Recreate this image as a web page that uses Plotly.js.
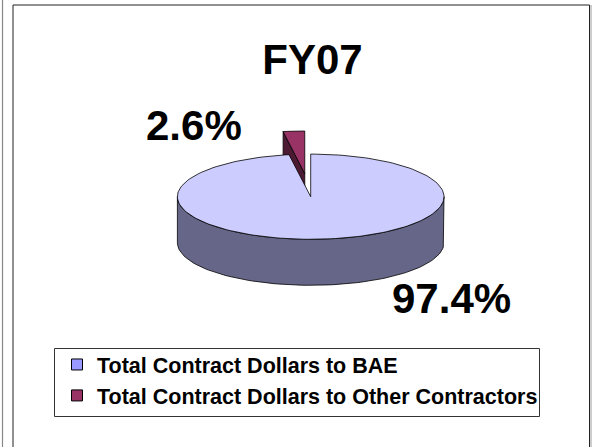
<!DOCTYPE html>
<html><head><meta charset="utf-8">
<script src="https://cdn.plot.ly/plotly-3.0.1.min.js"></script>
<style>html,body{margin:0;padding:0;background:#fff}#chart{width:595px;height:447px}</style>
</head><body><div id="chart"></div>
<script>
// ---- data ----
const chartTitle = 'FY07';
const labels = ['Total Contract Dollars to BAE', 'Total Contract Dollars to Other Contractors'];
const values = [97.4, 2.6];
const explodeFrac = [0, 0.544];
const topColors = ['#CCCCFF', '#993366'];
const sideColors = ['#666688', '#4D1A33'];
const legendColors = ['#9999FF', '#993366'];

// ---- geometry (pixel-mapped axes) ----
const CX = 310.7, CY = 196.7, A = 133.3, B = 42.6, D = 46;
const FONT = 'Arial, "Liberation Sans", sans-serif';
const total = values.reduce((s, v) => s + v, 0);
const rad = d => d * Math.PI / 180;
function pt(th, ox, oy, dz) { return [CX + ox + A * Math.cos(rad(th)), CY + oy - B * Math.sin(rad(th)) + dz]; }
function arc(a0, a1, ox, oy, dz) {
  const n = Math.max(2, Math.ceil(Math.abs(a1 - a0) / 2)); const out = [];
  for (let i = 0; i <= n; i++) out.push(pt(a0 + (a1 - a0) * i / n, ox, oy, dz));
  return out;
}
function poly(points, fill) {
  const xs = points.map(p => p[0]), ys = points.map(p => p[1]);
  xs.push(xs[0]); ys.push(ys[0]);
  return { type: 'scatter', mode: 'lines', x: xs, y: ys, fill: 'toself', fillcolor: fill,
    line: { color: '#000', width: 0.8 }, hoverinfo: 'skip', showlegend: false };
}

// slices clockwise from 12 o'clock
const slices = []; let s = 90;
values.forEach((v, i) => {
  const e = s - 360 * v / total; const mid = (s + e) / 2;
  const ox = explodeFrac[i] * A * Math.cos(rad(mid)), oy = -explodeFrac[i] * B * Math.sin(rad(mid));
  slices.push({ i, s, e, ox, oy }); s = e;
});

const traces = [];
const drawOrder = [1, 0];
drawOrder.forEach(k => {
  const sl = slices[k];
  const apexT = [CX + sl.ox, CY + sl.oy];
  const apexB = [apexT[0], apexT[1] + D];
  // radial faces
  [[sl.s, sl.s + 90], [sl.e, sl.e - 90]].forEach(([ang, nrm]) => {
    if (Math.sin(rad(nrm)) < -1e-6) {
      const pT = pt(ang, sl.ox, sl.oy, 0), pB = pt(ang, sl.ox, sl.oy, D);
      traces.push(poly([apexT, pT, pB, apexB], sideColors[k]));
    }
  });
  // outer (front) side
  [-360, 0, 360].forEach(off => {
    const lo = Math.max(180 + off - 360, sl.e), hi = Math.min(360 + off - 360, sl.s);
    if (hi > lo) {
      const top = arc(lo, hi, sl.ox, sl.oy, 0), bot = arc(hi, lo, sl.ox, sl.oy, D);
      traces.push(poly(top.concat(bot), sideColors[k]));
    }
  });
  // top face
  traces.push(poly([apexT].concat(arc(sl.s, sl.e, sl.ox, sl.oy, 0)), topColors[k]));
});

labels.forEach((lab, i) => traces.push({
  type: 'scatter', mode: 'markers', x: [null], y: [null], name: lab, hoverinfo: 'skip',
  marker: { symbol: 'square', size: 11, color: legendColors[i], line: { color: '#000', width: 1 } }
}));

const pctPos = [[451, 298], [194, 125.5]];
const annotations = values.map((v, i) => ({
  x: pctPos[i][0], y: pctPos[i][1], xref: 'x', yref: 'y', showarrow: false,
  xanchor: 'center', yanchor: 'middle', text: v.toFixed(1) + '%',
  font: { family: FONT, size: 42, weight: 700, color: '#000' }
}));

const shapes = [
  { type: 'line', x0: 2.5, x1: 2.5, y0: 0, y1: 447, line: { color: '#888', width: 1.2 } },
  { type: 'rect', x0: 13, x1: 589.5, y0: 5, y1: 460, line: { color: '#222', width: 1 } },
  { type: 'line', x0: 591, x1: 591, y0: 5, y1: 447, line: { color: '#999', width: 1 } },
  { type: 'rect', x0: 54.5, x1: 539.5, y0: 348.5, y1: 416.5, line: { color: '#333', width: 1 } }
];

const layout = {
  width: 595, height: 447, margin: { l: 0, r: 0, t: 0, b: 0 },
  paper_bgcolor: '#fff', plot_bgcolor: 'rgba(0,0,0,0)',
  title: { text: chartTitle, font: { family: FONT, size: 42, weight: 700, color: '#000' },
    xref: 'container', yref: 'container', x: 312.5 / 595, xanchor: 'center', y: 1 - 59.7 / 447, yanchor: 'middle' },
  xaxis: { range: [0, 595], visible: false, fixedrange: true },
  yaxis: { range: [447, 0], visible: false, fixedrange: true },
  showlegend: true,
  legend: { x: 57 / 595, xanchor: 'left', y: 1 - 344 / 447, yanchor: 'top', bgcolor: 'rgba(0,0,0,0)',
    borderwidth: 0, font: { family: FONT, size: 21.5, weight: 700, color: '#000' } },
  shapes, annotations
};
Plotly.newPlot('chart', traces, layout, { displayModeBar: false, staticPlot: true });
</script></body></html>
